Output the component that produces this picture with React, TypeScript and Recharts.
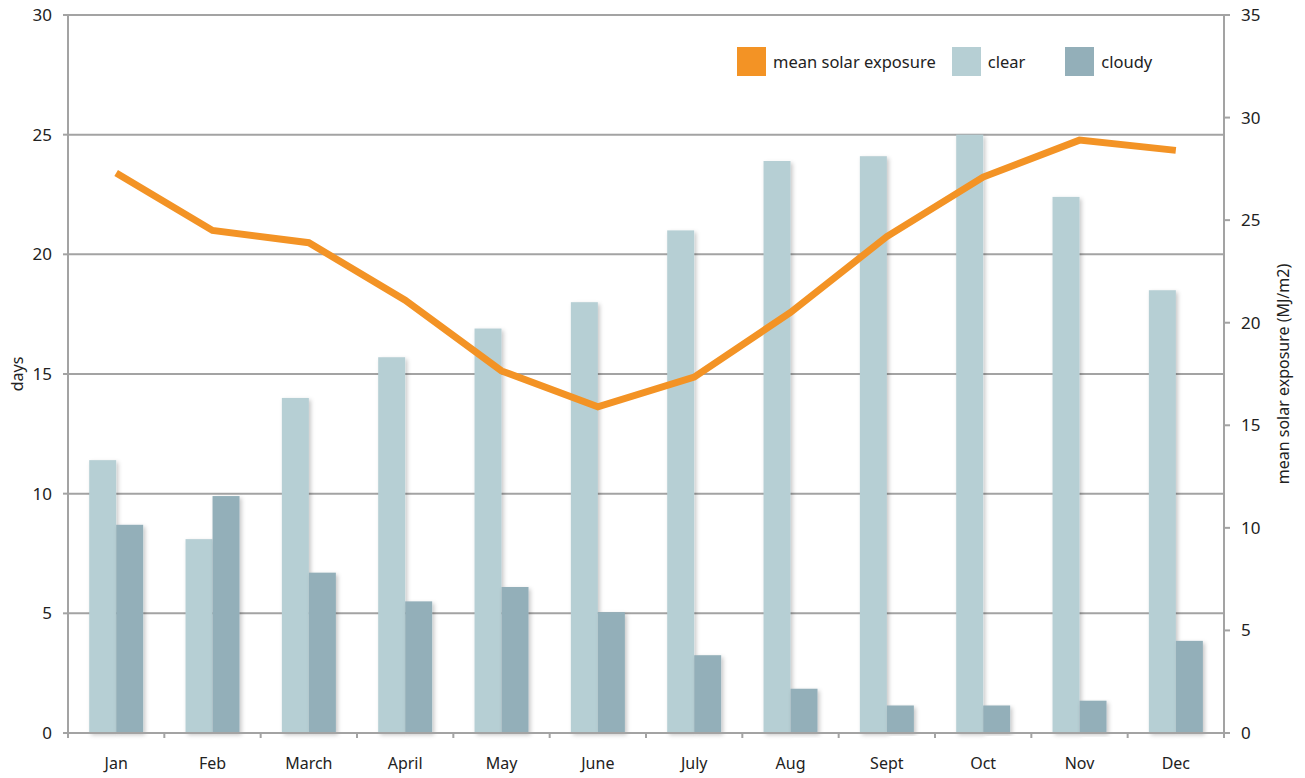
import { ComposedChart, Bar, Line, XAxis, YAxis, CartesianGrid } from 'recharts';

const months = ['Jan', 'Feb', 'March', 'April', 'May', 'June', 'July', 'Aug', 'Sept', 'Oct', 'Nov', 'Dec'];
const clearDays = [11.4, 8.1, 14.0, 15.7, 16.9, 18.0, 21.0, 23.9, 24.1, 25.0, 22.4, 18.5];
const cloudyDays = [8.7, 9.9, 6.7, 5.5, 6.1, 5.05, 3.25, 1.85, 1.15, 1.15, 1.35, 3.85];
const solarExposure = [27.3, 24.5, 23.9, 21.1, 17.65, 15.9, 17.35, 20.5, 24.2, 27.1, 28.9, 28.4];
const dayTicks = [0, 5, 10, 15, 20, 25, 30];
const solarTicks = [0, 5, 10, 15, 20, 25, 30, 35];

const FONT = '"Noto Sans", "Open Sans", sans-serif';
const AXIS = '#a3a3a3';
const ORANGE = '#f39325';
const CLEAR = '#b6cfd4';
const CLOUDY = '#93afb9';

const WIDTH = 1305;
const HEIGHT = 778;
const LEFT_W = 68;
const RIGHT_W = 81;
const plotWidth = WIDTH - LEFT_W - RIGHT_W;
const step = plotWidth / months.length;

const data = months.map((m, i) => ({
  month: m,
  clear: clearDays[i],
  cloudy: cloudyDays[i],
  solar: solarExposure[i],
}));

const legendItems = [
  { label: 'mean solar exposure', color: ORANGE, gap: 16 },
  { label: 'clear', color: CLEAR, gap: 40 },
  { label: 'cloudy', color: CLOUDY, gap: 0 },
];

function MonthTick(props: any) {
  const { x, y, payload, index } = props;
  const isLast = index === months.length - 1;
  const top = y - 8;
  return (
    <g>
      <line x1={x - step / 2} x2={x - step / 2} y1={top} y2={top + 5} stroke={AXIS} strokeWidth={2} />
      {isLast && <line x1={x + step / 2} x2={x + step / 2} y1={top} y2={top + 5} stroke={AXIS} strokeWidth={2} />}
      <text x={x} y={y + 28} textAnchor="middle" fill="#222" fontSize={16} fontFamily={FONT}>
        {payload.value}
      </text>
    </g>
  );
}

function ShadowBar(props: any) {
  const { x, y, width, height, fill } = props;
  if (!height || height <= 0) return null;
  return <rect x={x} y={y} width={width} height={height} fill={fill} filter="url(#barShadow)" />;
}

function AxisTitle({ viewBox, value, cx }: any) {
  const cy = viewBox.y + viewBox.height / 2;
  return (
    <text
      x={cx}
      y={cy}
      transform={`rotate(-90 ${cx} ${cy})`}
      textAnchor="middle"
      dominantBaseline="central"
      fill="#222"
      fontSize={16}
      fontFamily={FONT}
    >
      {value}
    </text>
  );
}

function TopLegend() {
  return (
    <div
      style={{
        position: 'absolute',
        top: 47,
        left: 737,
        display: 'flex',
        alignItems: 'center',
        fontFamily: FONT,
        fontSize: 16.5,
        color: '#222',
        whiteSpace: 'nowrap',
      }}
    >
      {legendItems.map((it) => (
        <div key={it.label} style={{ display: 'flex', alignItems: 'center', marginRight: it.gap }}>
          <div style={{ width: 29, height: 29, background: it.color, marginRight: 7 }} />
          <span>{it.label}</span>
        </div>
      ))}
    </div>
  );
}

export default function App() {
  return (
    <div style={{ position: 'relative', width: WIDTH, height: HEIGHT, margin: '-8px 0 0 -8px' }}>
      <ComposedChart
        width={WIDTH}
        height={HEIGHT}
        data={data}
        margin={{ top: 15, right: 0, bottom: 8, left: 0 }}
        barCategoryGap="22%"
        barGap={0}
      >
        <defs>
          <filter id="barShadow" x="-20%" y="-5%" width="150%" height="115%">
            <feDropShadow dx="2" dy="2" stdDeviation="2" floodColor="#000" floodOpacity="0.22" />
          </filter>
        </defs>
        <CartesianGrid yAxisId="left" vertical={false} stroke={AXIS} strokeWidth={2} />
        <XAxis
          dataKey="month"
          height={37}
          axisLine={{ stroke: AXIS, strokeWidth: 2 }}
          tickLine={false}
          tick={<MonthTick />}
          interval={0}
        />
        <YAxis
          yAxisId="left"
          width={LEFT_W}
          domain={[0, 30]}
          ticks={dayTicks}
          axisLine={{ stroke: AXIS, strokeWidth: 2 }}
          tickLine={{ stroke: AXIS, strokeWidth: 2 }}
          tickSize={5}
          tickMargin={11}
          tick={{ fill: '#222', fontSize: 17, fontFamily: FONT }}
          label={<AxisTitle value="days" cx={17} />}
        />
        <YAxis
          yAxisId="right"
          orientation="right"
          width={RIGHT_W}
          domain={[0, 35]}
          ticks={solarTicks}
          axisLine={{ stroke: AXIS, strokeWidth: 2 }}
          tickLine={{ stroke: AXIS, strokeWidth: 2 }}
          tickSize={6}
          tickMargin={11}
          tick={{ fill: '#222', fontSize: 17, fontFamily: FONT, textAnchor: 'start' }}
          label={<AxisTitle value="mean solar exposure (MJ/m2)" cx={1283} />}
        />
        <Bar yAxisId="left" dataKey="clear" name="clear" fill={CLEAR} shape={<ShadowBar />} isAnimationActive={false} />
        <Bar yAxisId="left" dataKey="cloudy" name="cloudy" fill={CLOUDY} shape={<ShadowBar />} isAnimationActive={false} />
        <Line
          yAxisId="right"
          dataKey="solar"
          name="mean solar exposure"
          type="linear"
          stroke={ORANGE}
          strokeWidth={7}
          dot={false}
          activeDot={false}
          isAnimationActive={false}
        />
      </ComposedChart>
      <TopLegend />
    </div>
  );
}
